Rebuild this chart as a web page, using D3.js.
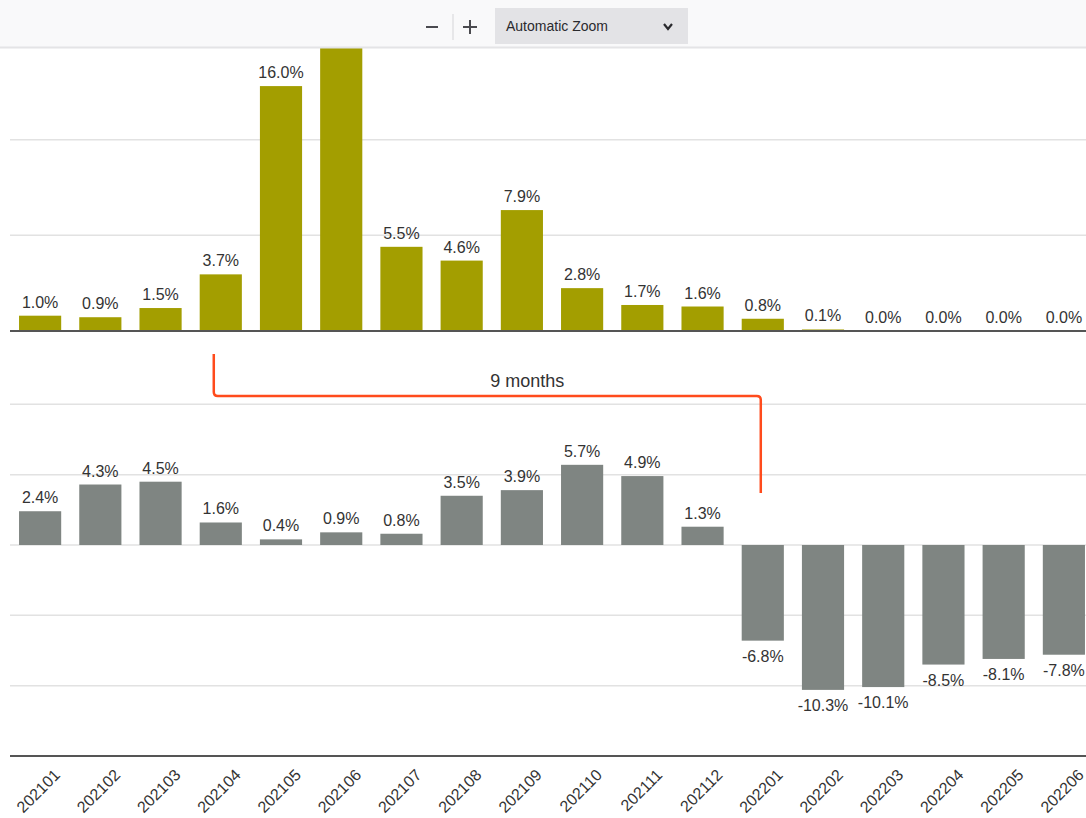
<!DOCTYPE html>
<html>
<head>
<meta charset="utf-8">
<script src="https://cdn.jsdelivr.net/npm/d3@7"></script>
<style>
  html, body { margin: 0; padding: 0; background: #ffffff; }
  svg { display: block; font-family: "Liberation Sans", Arial, Helvetica, sans-serif; }
</style>
</head>
<body>
<svg id="chart" width="1086" height="818"></svg>
<script>
// Monthly categories shared by both panels
const months = ["202101","202102","202103","202104","202105","202106","202107","202108","202109",
                "202110","202111","202112","202201","202202","202203","202204","202205","202206"];

// Upper panel: monthly change (%)
const upperValues = [1.0, 0.9, 1.5, 3.7, 16.0, 20.3, 5.5, 4.6, 7.9, 2.8, 1.7, 1.6, 0.8, 0.1, 0.0, 0.0, 0.0, 0.0];
const upperGrid = [6.25, 12.5, 18.75];

// Lower panel: monthly change (%)
const lowerValues = [2.4, 4.3, 4.5, 1.6, 0.4, 0.9, 0.8, 3.5, 3.9, 5.7, 4.9, 1.3, -6.8, -10.3, -10.1, -8.5, -8.1, -7.8];
const lowerGrid = [10, 5, 0, -5, -10];

// Lag annotation between the two panels
const lagFrom = "202104";
const lagTo = "202201";
const lagText = "9 months";

const svg = d3.select("#chart");
const fmt = v => v.toFixed(1) + "%";
const toolbarH = 47;

const x = d3.scaleBand().domain(months).range([10, 1094]).paddingInner(0.3).paddingOuter(0.15);
const yUp = d3.scaleLinear().domain([0, 18.75]).range([331, 44]);
const yLo = d3.scaleLinear().domain([-15, 15]).range([756, 334]);

const gridColor = "#e2e2e2";
const axisColor = "#555555";
const textColor = "#333333";
const labelSize = 16;

// gridlines
svg.append("g").selectAll("line").data(upperGrid).join("line")
  .attr("x1", 10).attr("x2", 1086)
  .attr("y1", d => yUp(d)).attr("y2", d => yUp(d))
  .attr("stroke", gridColor).attr("stroke-width", 1.5);
svg.append("g").selectAll("line").data(lowerGrid).join("line")
  .attr("x1", 10).attr("x2", 1086)
  .attr("y1", d => yLo(d)).attr("y2", d => yLo(d))
  .attr("stroke", gridColor).attr("stroke-width", 1.5);

// upper bars
svg.append("g").selectAll("rect").data(months).join("rect")
  .attr("x", d => x(d)).attr("width", x.bandwidth())
  .attr("y", (d, i) => yUp(upperValues[i]))
  .attr("height", (d, i) => yUp(0) - yUp(upperValues[i]))
  .attr("fill", "#a39e00");

// value labels; ones that would sit under the toolbar are left out
const upperLabels = months.map((m, i) => ({ m, v: upperValues[i] }))
  .filter(d => yUp(d.v) - 8 - labelSize > toolbarH);
svg.append("g").selectAll("text").data(upperLabels).join("text")
  .attr("x", d => x(d.m) + x.bandwidth() / 2)
  .attr("y", d => yUp(d.v) - 8)
  .attr("text-anchor", "middle").attr("font-size", labelSize).attr("fill", textColor)
  .text(d => fmt(d.v));

// lower bars
svg.append("g").selectAll("rect").data(months).join("rect")
  .attr("x", d => x(d)).attr("width", x.bandwidth())
  .attr("y", (d, i) => yLo(Math.max(0, lowerValues[i])))
  .attr("height", (d, i) => Math.abs(yLo(lowerValues[i]) - yLo(0)))
  .attr("fill", "#7f8582");

svg.append("g").selectAll("text").data(months).join("text")
  .attr("x", d => x(d) + x.bandwidth() / 2)
  .attr("y", (d, i) => lowerValues[i] >= 0 ? yLo(lowerValues[i]) - 8 : yLo(lowerValues[i]) + 21)
  .attr("text-anchor", "middle").attr("font-size", labelSize).attr("fill", textColor)
  .text((d, i) => fmt(lowerValues[i]));

// baselines
svg.append("line").attr("x1", 10).attr("x2", 1086).attr("y1", yUp(0)).attr("y2", yUp(0))
  .attr("stroke", axisColor).attr("stroke-width", 2.2);
svg.append("line").attr("x1", 10).attr("x2", 1086).attr("y1", yLo(-15)).attr("y2", yLo(-15))
  .attr("stroke", axisColor).attr("stroke-width", 2.2);

// month labels
svg.append("g").selectAll("text").data(months).join("text")
  .attr("transform", d => `translate(${x(d) + x.bandwidth() / 2 + 21},${yLo(-15) + 20}) rotate(-45)`)
  .attr("text-anchor", "end").attr("font-size", labelSize).attr("fill", textColor)
  .text(d => d);

// lag bracket
const lx = x(lagFrom) + x.bandwidth() / 2 - 7;
const rx = x(lagTo) + x.bandwidth() / 2 - 2;
const by = 396, r = 4;
svg.append("path")
  .attr("d", `M${lx},354 V${by - r} Q${lx},${by} ${lx + r},${by} H${rx - r} Q${rx},${by} ${rx},${by + r} V493`)
  .attr("fill", "none").attr("stroke", "#ff4b1c").attr("stroke-width", 2.5);
svg.append("text").attr("x", (lx + rx) / 2 + 40).attr("y", 387)
  .attr("text-anchor", "middle").attr("font-size", 18).attr("fill", textColor).text(lagText);

// viewer toolbar across the top
const bar = svg.append("g");
bar.append("rect").attr("x", 0).attr("y", 0).attr("width", 1086).attr("height", toolbarH).attr("fill", "#f9f9fa");
bar.append("line").attr("x1", 0).attr("x2", 1086).attr("y1", toolbarH + 0.5).attr("y2", toolbarH + 0.5).attr("stroke", "#e4e4e6").attr("stroke-width", 2);
bar.append("line").attr("x1", 426).attr("x2", 438).attr("y1", 27).attr("y2", 27).attr("stroke", "#4a4a4f").attr("stroke-width", 2);
bar.append("line").attr("x1", 453).attr("x2", 453).attr("y1", 14).attr("y2", 40).attr("stroke", "#d5d5d8").attr("stroke-width", 1);
bar.append("line").attr("x1", 463).attr("x2", 477).attr("y1", 27).attr("y2", 27).attr("stroke", "#4a4a4f").attr("stroke-width", 2);
bar.append("line").attr("x1", 470).attr("x2", 470).attr("y1", 20).attr("y2", 34).attr("stroke", "#4a4a4f").attr("stroke-width", 2);
bar.append("rect").attr("x", 495).attr("y", 8).attr("width", 193).attr("height", 36).attr("fill", "#e3e3e6");
bar.append("text").attr("x", 506).attr("y", 31).attr("font-size", 14).attr("fill", "#2a2a2e").text("Automatic Zoom");
bar.append("path").attr("d", "M664,24 L668,29 L672,24").attr("fill", "none").attr("stroke", "#2a2a2e").attr("stroke-width", 2.2);
</script>
</body>
</html>
